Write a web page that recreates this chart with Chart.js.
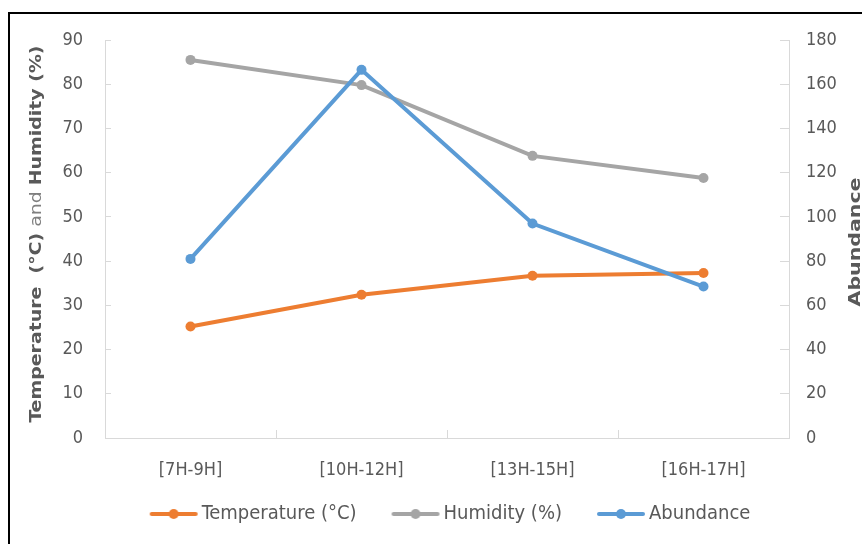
<!DOCTYPE html>
<html>
<head>
<meta charset="utf-8">
<script src="https://cdn.jsdelivr.net/npm/chart.js@4.4.1/dist/chart.umd.min.js"></script>
<style>
  html, body { margin: 0; padding: 0; background: #fff; }
  #wrap { position: relative; width: 862px; height: 544px; overflow: hidden; }
  #frame { position: absolute; left: 8px; top: 12px; width: 900px; height: 600px;
           border-left: 2px solid #000; border-top: 2px solid #000; pointer-events: none; }
</style>
</head>
<body>
<div id="wrap">
  <canvas id="chart" width="862" height="544"></canvas>
  <div id="frame"></div>
</div>
<script>
const categories = ['[7H-9H]', '[10H-12H]', '[13H-15H]', '[16H-17H]'];
const temperature = [25.2, 32.4, 36.7, 37.3];
const humidity = [85.5, 79.8, 63.8, 58.8];
const abundance = [81, 166.5, 97, 68.5];
const leftTicks = [0, 10, 20, 30, 40, 50, 60, 70, 80, 90];
const rightTicks = [0, 20, 40, 60, 80, 100, 120, 140, 160, 180];

const FONT = "'Liberation Sans Narrow', 'DejaVu Sans Condensed', 'Liberation Sans', sans-serif";
const TEXT = '#595959';
const AXIS = '#d9d9d9';
const colors = { temp: '#ed7d31', hum: '#a5a5a5', abun: '#5b9bd5' };

// line-with-dot swatch for the legend (drawn centred on a 42px box)
function swatch(color) {
  const c = document.createElement('canvas');
  c.width = 58; c.height = 12;
  const g = c.getContext('2d');
  g.strokeStyle = color; g.lineWidth = 4; g.lineCap = 'round';
  g.beginPath(); g.moveTo(10, 6); g.lineTo(54, 6); g.stroke();
  g.fillStyle = color;
  g.beginPath(); g.arc(32, 6, 5, 0, Math.PI * 2); g.fill();
  return c;
}

// rotated axis titles with mixed bold / normal runs
function drawRotated(ctx, parts, cx, cy, length) {
  ctx.save();
  ctx.translate(cx, cy);
  ctx.rotate(-Math.PI / 2);
  let total = 0;
  parts.forEach(p => {
    ctx.font = (p.bold ? 'bold ' : '') + '15px ' + FONT;
    p.w = ctx.measureText(p.text).width;
    total += p.w;
  });
  ctx.scale(length / total, 1);
  ctx.textBaseline = 'middle';
  let x = -total / 2;
  parts.forEach(p => {
    ctx.font = (p.bold ? 'bold ' : '') + '15px ' + FONT;
    ctx.fillStyle = p.bold ? TEXT : '#7f7f7f';
    ctx.fillText(p.text, x, 0);
    x += p.w;
  });
  ctx.restore();
}

const axisTitles = {
  id: 'axisTitles',
  afterLayout(chart) {
    // pull the legend up a bit closer to the category labels
    const lg = chart.legend;
    lg.top -= 14; lg.bottom -= 14;
    lg.left += 3; lg.right += 3;
  },
  afterDraw(chart) {
    const ctx = chart.ctx;
    drawRotated(ctx, [
      { text: 'Temperature  (°C)', bold: true },
      { text: ' and ', bold: false },
      { text: 'Humidity (%)', bold: true }
    ], 37, 234, 377);
    drawRotated(ctx, [{ text: 'Abundance', bold: true }], 856, 242, 129);
  }
};

const tickFont = { family: FONT, size: 18 };

new Chart(document.getElementById('chart'), {
  type: 'line',
  data: {
    labels: categories,
    datasets: [
      { label: 'Temperature (°C)', data: temperature, yAxisID: 'y', borderColor: colors.temp,
        backgroundColor: colors.temp, order: 2 },
      { label: 'Humidity (%)', data: humidity, yAxisID: 'y', borderColor: colors.hum,
        backgroundColor: colors.hum, order: 1 },
      { label: 'Abundance', data: abundance, yAxisID: 'y1', borderColor: colors.abun,
        backgroundColor: colors.abun, order: 0 }
    ]
  },
  options: {
    responsive: false,
    animation: false,
    layout: { padding: { top: 40, bottom: -4, left: 0, right: 0 } },
    elements: {
      line: { borderWidth: 4, tension: 0 },
      point: { radius: 5, borderWidth: 0, hoverRadius: 5 }
    },
    plugins: {
      tooltip: { enabled: false },
      legend: {
        position: 'bottom',
        fullSize: false,
        labels: {
          usePointStyle: true,
          pointStyleWidth: 42,
          padding: 35,
          color: TEXT,
          font: { family: FONT, size: 20 },
          sort: (a, b) => a.datasetIndex - b.datasetIndex,
          generateLabels(chart) {
            const items = Chart.defaults.plugins.legend.labels.generateLabels(chart);
            items.forEach(it => {
              const ds = chart.data.datasets[it.datasetIndex];
              it.pointStyle = swatch(ds.borderColor);
            });
            return items;
          }
        }
      }
    },
    scales: {
      x: {
        offset: true,
        grid: { display: true, offset: true, drawOnChartArea: false, tickLength: -8, color: AXIS },
        border: { color: AXIS },
        ticks: { color: TEXT, font: tickFont, padding: 30 },
        afterFit(s) { s.height = 45; }
      },
      y: {
        position: 'left',
        min: 0, max: 90,
        afterBuildTicks(s) { s.ticks = leftTicks.map(v => ({ value: v })); },
        grid: { display: true, drawOnChartArea: false, tickLength: -6, color: AXIS },
        border: { color: AXIS },
        ticks: { color: TEXT, font: tickFont, padding: 28 },
        afterFit(s) { s.width = 105; }
      },
      y1: {
        position: 'right',
        min: 0, max: 180,
        afterBuildTicks(s) { s.ticks = rightTicks.map(v => ({ value: v })); },
        grid: { display: true, drawOnChartArea: false, tickLength: -9, color: AXIS },
        border: { color: AXIS },
        ticks: { color: TEXT, font: tickFont, padding: 26 },
        afterFit(s) { s.width = 73; }
      }
    }
  },
  plugins: [axisTitles]
});
</script>
</body>
</html>
